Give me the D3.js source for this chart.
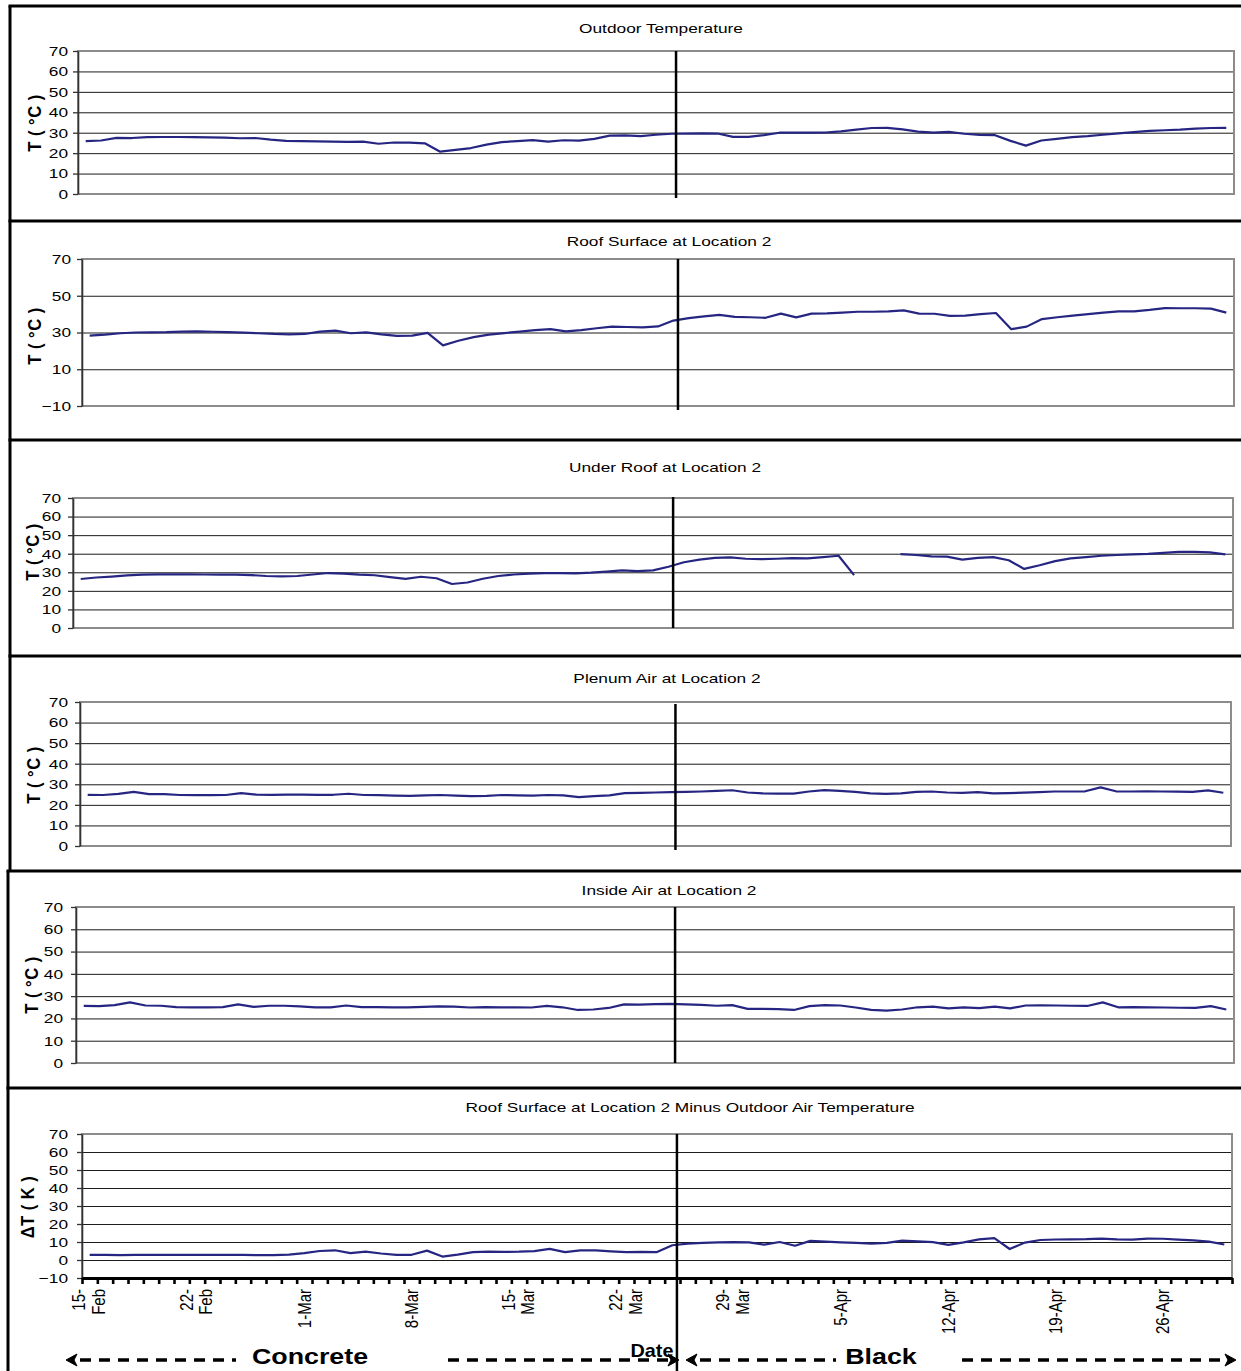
<!DOCTYPE html>
<html><head><meta charset="utf-8">
<script src="https://cdn.jsdelivr.net/npm/d3@7"></script>
<style>
body{margin:0;background:#fff}
svg{display:block}
text{font-family:"Liberation Sans",Arial,sans-serif;fill:#000}
</style>
</head><body>
<svg id="chart" width="1241" height="1371"></svg>
<script>
// ---------------- DATA ----------------
const days = d3.timeDay.range(new Date(2003, 1, 15), new Date(2003, 4, 1)); // 15-Feb .. 30-Apr (75 days)
const tickLabels = [["15-","Feb"],["22-","Feb"],["1-Mar"],["8-Mar"],["15-","Mar"],["22-","Mar"],
                    ["29-","Mar"],["5-Apr"],["12-Apr"],["19-Apr"],["26-Apr"]];
const labelEvery = 7;
const switchIndex = 38.8;   // roof changed from concrete to black

const titles = ["Outdoor Temperature","Roof Surface at Location 2","Under Roof at Location 2",
                "Plenum Air at Location 2","Inside Air at Location 2",
                "Roof Surface at Location 2 Minus Outdoor Air Temperature"];
const yTitles = ["T ( °C )","T ( °C )","T ( °C )","T ( °C )","T ( °C )","ΔT  ( K )"];

const ticks0to70 = [0,10,20,30,40,50,60,70];
const ticksRoof = [-10,10,30,50,70];
const ticksDelta = [-10,0,10,20,30,40,50,60,70];

const outdoor = [25.9,26.2,27.5,27.4,27.8,27.9,27.9,27.8,27.7,27.6,27.3,27.4,26.6,26.0,25.9,25.8,25.6,25.5,25.6,24.6,
  25.2,25.1,24.8,20.7,21.6,22.5,24.2,25.4,25.9,26.4,25.6,26.3,26.1,27.0,28.6,28.7,28.3,29.0,29.5,29.6,
  29.7,29.6,28.0,28.0,28.8,30.0,30.0,30.0,30.1,30.7,31.5,32.3,32.4,31.6,30.5,30.0,30.4,29.5,28.9,28.8,
  26.0,23.7,26.2,27.0,27.8,28.3,29.0,29.7,30.3,30.9,31.2,31.5,32.0,32.3,32.4];

const roofSurface = [28.3,28.8,29.6,30.0,30.1,30.2,30.5,30.6,30.4,30.2,29.9,29.6,29.2,29.0,29.2,30.5,31.0,29.6,30.1,29.0,
  28.2,28.3,29.8,23.0,25.5,27.5,28.8,29.7,30.5,31.3,31.8,30.6,31.3,32.3,33.2,33.0,32.8,33.3,36.5,37.8,
  38.8,39.6,38.5,38.3,38.0,40.3,38.2,40.3,40.4,40.8,41.3,41.3,41.5,42.0,40.3,40.2,39.0,39.2,40.0,40.6,
  31.8,33.2,37.3,38.3,39.2,40.0,40.8,41.5,41.5,42.3,43.3,43.2,43.2,43.0,40.8];

const underRoof = [26.4,27.2,27.7,28.3,28.7,28.9,28.9,28.9,28.8,28.7,28.7,28.5,28.0,27.8,28.0,28.8,29.6,29.3,28.7,28.4,
  27.4,26.5,27.6,26.8,23.7,24.5,26.5,28.0,28.8,29.3,29.5,29.6,29.4,29.8,30.4,31.0,30.6,31.0,33.0,35.4,
  36.8,37.8,38.0,37.3,37.1,37.3,37.6,37.5,38.2,38.9,28.5,null,null,39.8,39.3,38.6,38.4,36.8,37.8,38.2,
  36.5,31.8,33.8,36.0,37.5,38.2,38.9,39.3,39.6,39.9,40.4,41.0,41.0,40.7,39.6];

const plenumAir = [24.9,24.8,25.3,26.3,25.2,25.2,24.8,24.7,24.7,24.8,25.7,25.0,24.9,25.0,25.0,24.9,24.9,25.4,24.8,24.7,
  24.5,24.4,24.6,24.8,24.5,24.2,24.4,24.8,24.6,24.5,24.8,24.6,23.8,24.2,24.6,25.7,25.8,26.0,26.2,26.3,
  26.5,26.8,27.1,26.0,25.6,25.5,25.5,26.5,27.2,26.8,26.3,25.6,25.3,25.6,26.3,26.5,26.0,25.8,26.2,25.6,
  25.7,25.9,26.2,26.5,26.5,26.6,28.5,26.6,26.5,26.6,26.5,26.4,26.3,27.0,25.9];

const insideAir = [25.6,25.5,26.0,27.2,25.8,25.7,25.1,25.0,25.0,25.1,26.3,25.2,25.7,25.7,25.4,25.0,25.0,25.8,25.1,25.1,
  25.0,25.0,25.2,25.4,25.3,24.9,25.1,25.0,25.0,24.9,25.6,25.0,23.8,24.0,24.7,26.3,26.2,26.4,26.5,26.3,
  26.1,25.7,26.0,24.3,24.3,24.2,23.8,25.5,26.0,25.8,24.9,23.8,23.5,24.0,25.0,25.3,24.5,25.0,24.6,25.3,
  24.5,25.8,25.9,25.8,25.7,25.6,27.2,25.0,25.1,25.0,24.9,24.8,24.7,25.5,24.0];

const roofMinusOutdoor = [2.8,2.8,2.7,2.8,2.9,2.8,2.8,2.9,2.9,2.8,2.8,2.7,2.7,3.0,3.8,5.0,5.4,3.8,4.7,3.6,
  2.8,2.9,5.2,1.9,3.0,4.4,4.6,4.5,4.6,4.9,6.2,4.4,5.3,5.3,4.8,4.4,4.5,4.4,8.2,9.1,
  9.5,9.8,9.9,9.8,8.5,10.0,7.9,10.6,10.2,9.8,9.5,9.1,9.5,10.8,10.4,9.9,8.4,9.8,11.5,12.1,
  6.1,9.7,11.1,11.4,11.5,11.6,11.9,11.5,11.3,11.9,11.8,11.3,10.9,10.2,8.6];

const seriesList = [outdoor, roofSurface, underRoof, plenumAir, insideAir, roofMinusOutdoor];
const tickList = [ticks0to70, ticksRoof, ticks0to70, ticks0to70, ticks0to70, ticksDelta];

// ---------------- LAYOUT ----------------
const SX = 1.28; // horizontal stretch of the original scan's lettering
const layout = [
  {boxTop:6,   boxBottom:221,  boxLeft:10, L:78, R:1234, T:51,   B:194,  gap:10, ytx:34, yty:123,  tx:661, ty:33,   divTop:51,   divBottom:198},
  {boxTop:221, boxBottom:440,  boxLeft:10, L:82, R:1234, T:259,  B:406,  gap:11, ytx:34, yty:336,  tx:669, ty:246,  divTop:259,  divBottom:410},
  {boxTop:440, boxBottom:656,  boxLeft:10, L:73, R:1233, T:498,  B:628,  gap:12, ytx:32, yty:552,  tx:665, ty:472,  divTop:497,  divBottom:628},
  {boxTop:656, boxBottom:871,  boxLeft:10, L:80, R:1231, T:702,  B:846,  gap:12, ytx:33, yty:775,  tx:667, ty:683,  divTop:704,  divBottom:850},
  {boxTop:871, boxBottom:1088, boxLeft:8,  L:76, R:1234, T:907,  B:1063, gap:13, ytx:31, yty:985,  tx:669, ty:895,  divTop:907,  divBottom:1063},
  {boxTop:1088,boxBottom:1371, boxLeft:8,  L:82, R:1232, T:1134, B:1278, gap:14, ytx:27, yty:1207, tx:690, ty:1112, divTop:1134, divBottom:1371}
];

const svg = d3.select("#chart");
svg.append("rect").attr("width",1241).attr("height",1371).attr("fill","#fff");
const N = days.length;

function sText(parent, x, y, str, o) {
  const g = parent.append("g").attr("transform", `translate(${x},${y}) scale(${o.sx||SX},1)` + (o.rotate ? " rotate(-90)" : ""));
  return g.append("text").attr("text-anchor", o.anchor || "middle")
    .attr("font-size", o.size).attr("font-weight", o.weight || "normal").text(str);
}

layout.forEach((lay, p) => {
  const g = svg.append("g");
  const values = seriesList[p];
  const yTicks = tickList[p];
  const x = d3.scalePoint().domain(d3.range(N)).range([lay.L, lay.R]).padding(0.5);
  const xb = d3.scaleLinear().domain([0, N]).range([lay.L, lay.R]);
  const y = d3.scaleLinear().domain(d3.extent(yTicks)).range([lay.B, lay.T]);

  // gridlines
  const grid = g.append("g").attr("transform", `translate(${lay.L},0)`)
    .call(d3.axisLeft(y).tickValues(yTicks).tickSize(-(lay.R - lay.L)).tickFormat(""));
  grid.select(".domain").remove();
  grid.selectAll("line").attr("stroke", "#1c1c1c").attr("stroke-width", 1);

  // plot frame
  g.append("rect").attr("x", lay.L).attr("y", lay.T).attr("width", lay.R - lay.L).attr("height", lay.B - lay.T)
    .attr("fill", "none").attr("stroke", "#8c8c8c").attr("stroke-width", 2);

  // y axis
  const ya = g.append("g").attr("transform", `translate(${lay.L},0)`)
    .call(d3.axisLeft(y).tickValues(yTicks).tickSize(5).tickSizeOuter(0));
  ya.select(".domain").attr("stroke", "#333").attr("stroke-width", 1.6);
  ya.selectAll(".tick line").attr("stroke", "#333").attr("stroke-width", 1.3);
  ya.selectAll(".tick text").attr("font-family", '"Liberation Sans",Arial,sans-serif').attr("font-size", 13.5)
    .attr("fill", "#000").attr("x", -lay.gap / SX).attr("transform", `scale(${SX},1)`);

  // series line
  const line = d3.line().defined(d => d != null).x((d, i) => x(i)).y(d => y(d));
  g.append("path").datum(values).attr("d", line).attr("fill", "none")
    .attr("stroke", "#262682").attr("stroke-width", 2.2).attr("stroke-linejoin", "round");

  // x axis for the last panel
  if (p === layout.length - 1) {
    const xa = g.append("g").attr("transform", `translate(0,${lay.B})`)
      .call(d3.axisBottom(xb).tickValues(d3.range(N + 1)).tickSize(6).tickSizeOuter(0).tickFormat(""));
    xa.select(".domain").attr("stroke", "#000").attr("stroke-width", 3);
    xa.selectAll(".tick line").attr("stroke", "#000").attr("stroke-width", 2.6);
    days.forEach((d, i) => {
      if (i % labelEvery !== 0) return;
      const lab = tickLabels[i / labelEvery];
      const t = sText(g, x(i), lay.B + 11, "", {size: 15, anchor: "end", rotate: true, sx: 1.2});
      if (lab.length === 1) {
        t.append("tspan").attr("x", 0).attr("dy", "0.36em").text(lab[0]);
      } else {
        t.append("tspan").attr("x", 0).attr("dy", "-0.25em").text(lab[0]);
        t.append("tspan").attr("x", 0).attr("dy", "1.1em").text(lab[1]);
      }
    });
  }

  // divider: concrete -> black
  g.append("line").attr("x1", xb(switchIndex)).attr("x2", xb(switchIndex))
    .attr("y1", lay.divTop).attr("y2", lay.divBottom).attr("stroke", "#000").attr("stroke-width", 2.5);

  // titles
  sText(g, lay.tx, lay.ty, titles[p], {size: 13.5});
  sText(g, lay.ytx, lay.yty, yTitles[p], {size: 16.5, weight: "bold", rotate: true, sx: 1.1})
    .attr("dy", "0.36em").attr("letter-spacing", "0.5px");

  // panel box borders
  g.append("line").attr("x1", lay.boxLeft - 1.5).attr("x2", 1241).attr("y1", lay.boxTop).attr("y2", lay.boxTop)
    .attr("stroke", "#000").attr("stroke-width", 3);
  g.append("line").attr("x1", lay.boxLeft).attr("x2", lay.boxLeft).attr("y1", lay.boxTop).attr("y2", lay.boxBottom)
    .attr("stroke", "#000").attr("stroke-width", 3);
});

// ---------------- bottom annotations ----------------
const ann = svg.append("g");
sText(ann, 652, 1357, "Date", {size: 18, weight: "bold", sx: 1.1});
sText(ann, 310, 1364, "Concrete", {size: 22, weight: "bold", sx: 1.22});
sText(ann, 881, 1364, "Black", {size: 22, weight: "bold", sx: 1.22});

const arrowY = 1360;
function dashed(x1, x2) {
  ann.append("line").attr("x1", x1).attr("x2", x2).attr("y1", arrowY).attr("y2", arrowY)
    .attr("stroke", "#000").attr("stroke-width", 3.5).attr("stroke-dasharray", "11,8");
}
function head(xTip, dir) {
  ann.append("path").attr("d", `M${xTip},${arrowY} L${xTip - dir * 11},${arrowY - 6} L${xTip - dir * 8},${arrowY} L${xTip - dir * 11},${arrowY + 6} Z`)
    .attr("fill", "#000").attr("stroke", "#000").attr("stroke-width", 1);
}
head(66, -1); dashed(80, 236);
dashed(448, 668); head(679, 1);
head(686, -1); dashed(700, 836);
dashed(962, 1224); head(1236, 1);
</script>
</body></html>
